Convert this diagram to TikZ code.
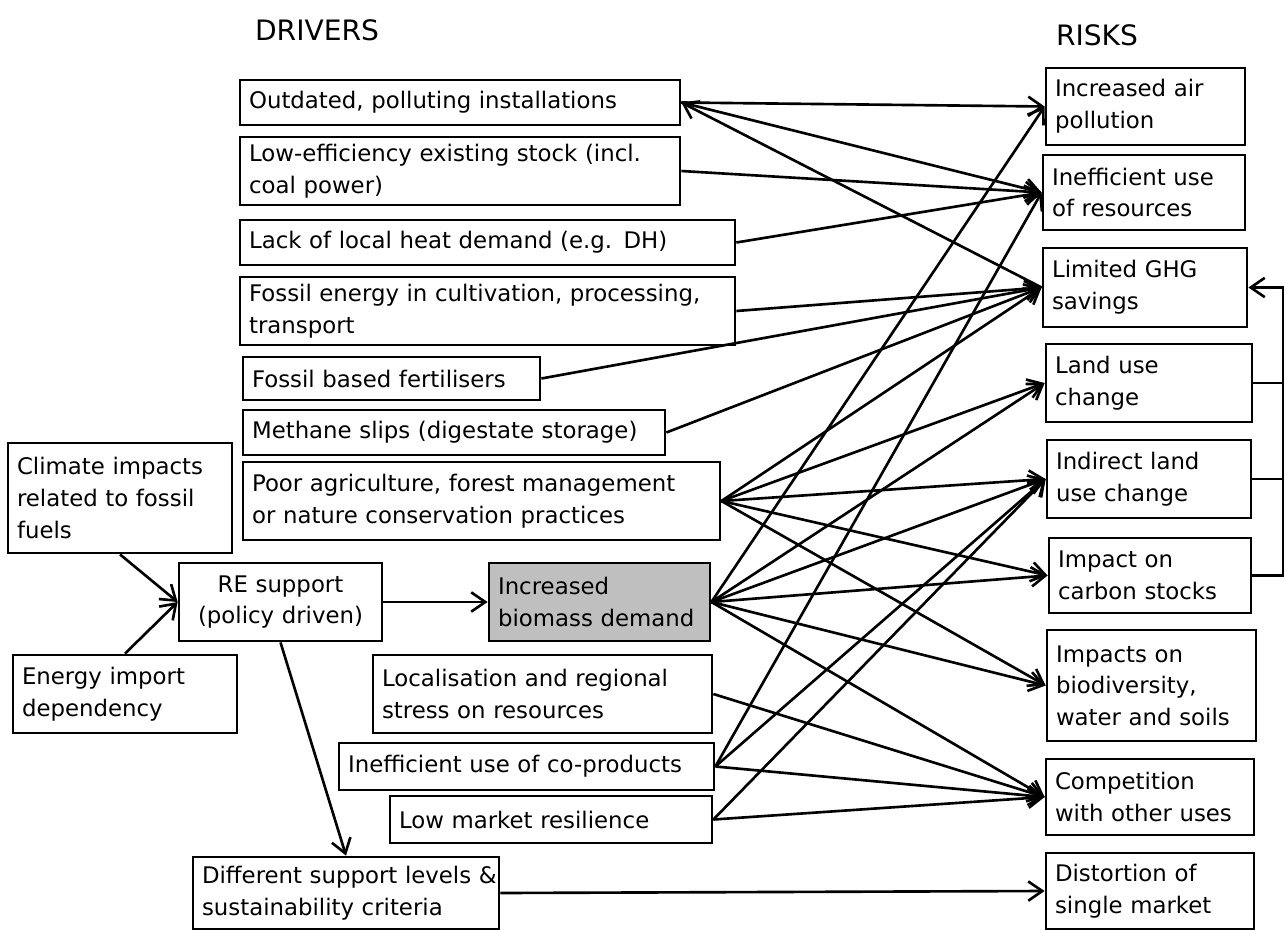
\documentclass[tikz,border=0pt]{standalone}
\usepackage{fontspec}
\setmainfont{DejaVu Sans}
\usetikzlibrary{arrows.meta}

\begin{document}
\begin{tikzpicture}[x=0.02cm, y=-0.02cm,
    box/.style={draw, line width=1.6pt, inner xsep=0.18cm, inner ysep=0pt, align=left, font=\fontsize{13}{18}\selectfont},
    heading/.style={font=\fontsize{16}{19}\selectfont},
    link/.style={line width=1.5pt, -{Straight Barb[length=8pt,width=11pt]}}]

\useasboundingbox (0,0) rectangle (1285,930);

\node[heading] (drivers) at (317,30) {DRIVERS};
\node[heading] (risks) at (1097,35) {RISKS};

% drivers
\node[box, text width=8.44cm, minimum height=0.9cm] (outdated) at (460,102.5) {Outdated, polluting installations};
\node[box, text width=8.44cm, minimum height=1.36cm] (loweff) at (460,171) {Low-efficiency existing stock (incl.\\coal power)};
\node[box, text width=9.54cm, minimum height=0.9cm] (heat) at (487.5,242.5) {Lack of local heat demand (e.g. DH)};
\node[box, text width=9.54cm, minimum height=1.36cm] (fossil) at (487.5,311) {Fossil energy in cultivation, processing,\\transport};
\node[box, text width=5.58cm, minimum height=0.86cm] (fert) at (391.5,378.5) {Fossil based fertilisers};
\node[box, text width=8.08cm, minimum height=0.9cm] (methane) at (454,432.5) {Methane slips (digestate storage)};
\node[box, text width=9.18cm, minimum height=1.56cm] (poor) at (481.5,501) {Poor agriculture, forest management\\or nature conservation practices};
\node[box, text width=4.12cm, minimum height=2.2cm] (climate) at (120,498) {Climate impacts\\related to fossil\\fuels};
\node[box, text width=3.7cm, minimum height=1.56cm, align=center] (re) at (280.5,602) {RE support\\(policy driven)};
\node[box, text width=4.12cm, minimum height=1.56cm] (energy) at (125,694) {Energy import\\dependency};
\node[box, text width=4.06cm, minimum height=1.56cm, fill=black!25] (biomass) at (599.5,602) {Increased\\\mbox{biomass demand}};
\node[box, text width=6.42cm, minimum height=1.56cm] (local) at (542.5,694) {Localisation and regional\\stress on resources};
\node[box, text width=7.14cm, minimum height=0.94cm] (coprod) at (526.5,766.5) {Inefficient use of co-products};
\node[box, text width=6.08cm, minimum height=0.94cm] (lowmkt) at (551,819.5) {Low market resilience};
\node[box, text width=5.76cm, minimum height=1.44cm] (different) at (346,893) {\mbox{Different support levels \&}\\sustainability criteria};

% risks
\node[box, text width=3.62cm, minimum height=1.54cm] (air) at (1145.5,106.5) {Increased air\\pollution};
\node[box, text width=3.68cm, minimum height=1.5cm] (ineff) at (1144,192.5) {Inefficient use\\of resources};
\node[box, text width=3.72cm, minimum height=1.58cm] (ghg) at (1145,287.5) {Limited GHG\\savings};
\node[box, text width=3.76cm, minimum height=1.56cm] (luc) at (1149,383) {Land use\\change};
\node[box, text width=3.72cm, minimum height=1.56cm] (iluc) at (1149,479) {Indirect land\\use change};
\node[box, text width=3.68cm, minimum height=1.5cm] (carbon) at (1150,575.5) {Impact on\\carbon stocks};
\node[box, text width=3.82cm, minimum height=2.22cm] (biodiv) at (1151.5,685.5) {Impacts on\\biodiversity,\\water and soils};
\node[box, text width=3.8cm, minimum height=1.52cm] (comp) at (1150,797) {Competition\\with other uses};
\node[box, text width=3.8cm, minimum height=1.52cm] (distortion) at (1150,891) {Distortion of\\single market};

\coordinate (rail) at (1283,0);

% policy chain
\draw[link] (climate.south) -- (re.west);
\draw[link] (energy.north) -- (re.west);
\draw[link] (re.east) -- (biomass.west);
\draw[link] (re.south) -- (different.north);
\draw[link] (different.east) -- (distortion.west);

% drivers to risks
\draw[link] (outdated.east) -- (air.west);
\draw[link] (outdated.east) -- (ineff.west);
\draw[link, {Straight Barb[length=8pt,width=11pt]}-] (outdated.east) -- (ghg.west);
\draw[link] (loweff.east) -- (ineff.west);
\draw[link] (heat.east) -- (ineff.west);
\draw[link] (fossil.east) -- (ghg.west);
\draw[link] (fert.east) -- (ghg.west);
\draw[link] (methane.east) -- (ghg.west);
\foreach \r in {ghg,luc,iluc,carbon,biodiv}
  \draw[link] (poor.east) -- (\r.west);
\foreach \r in {air,luc,iluc,carbon,biodiv,comp}
  \draw[link] (biomass.east) -- (\r.west);
\draw[link] (local.east) -- (comp.west);
\foreach \r in {ineff,iluc,comp}
  \draw[link] (coprod.east) -- (\r.west);
\draw[link] (lowmkt.east) -- (iluc.west);
\draw[link] (lowmkt.east) -- (comp.west);

% land use risks feed back into GHG savings
\draw[line width=1.5pt] (luc.east) -- (luc.east -| rail);
\draw[line width=1.5pt] (iluc.east) -- (iluc.east -| rail);
\draw[link] (carbon.east) -- (carbon.east -| rail) |- (ghg.east);
\end{tikzpicture}
\end{document}
